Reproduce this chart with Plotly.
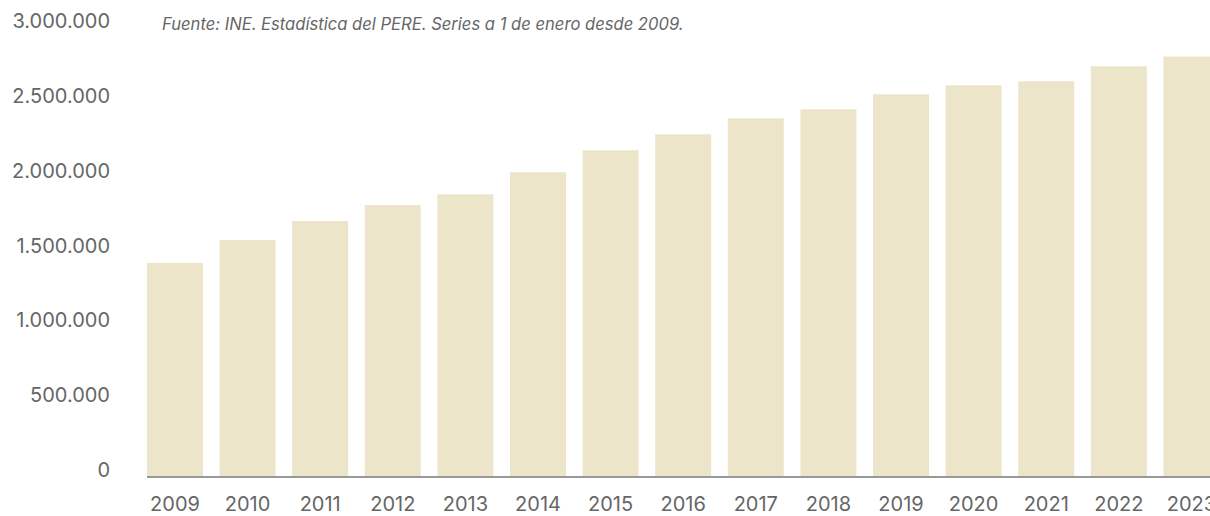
import plotly.graph_objects as go

years = ["2009", "2010", "2011", "2012", "2013", "2014", "2015", "2016",
         "2017", "2018", "2019", "2020", "2021", "2022", "2023"]
residents = [1423000, 1577000, 1703000, 1810000, 1883000, 2030000, 2177000, 2283000,
             2390000, 2450000, 2550000, 2610000, 2637000, 2737000, 2803000]
y_ticks = [0, 500000, 1000000, 1500000, 2000000, 2500000, 3000000]
y_tick_labels = ["0", "500.000", "1.000.000", "1.500.000", "2.000.000", "2.500.000", "3.000.000"]
source_text = "Fuente: INE. Estadística del PERE. Series a 1 de enero desde 2009."

BAR_GAP = 0.229
n = len(years)

fig = go.Figure(go.Bar(
    x=list(range(n)),
    y=residents,
    marker=dict(color="#EDE5CA", line=dict(width=0)),
    hoverinfo="skip",
))

fig.update_layout(
    width=1210, height=516,
    margin=dict(l=147, r=0, t=27, b=40, autoexpand=False),
    paper_bgcolor="white", plot_bgcolor="white",
    bargap=BAR_GAP,
    showlegend=False,
    font=dict(family="Inter, Roboto, sans-serif", color="#666666"),
    xaxis=dict(
        tickmode="array", tickvals=list(range(n)), ticktext=years,
        range=[-0.5 + BAR_GAP / 2, 14.256],
        showgrid=False, zeroline=False,
        showline=True, linecolor="#999999", linewidth=1.5,
        ticks="", tickfont=dict(size=20, color="#666666"),
        ticklabelstandoff=9, ticklabeloverflow="allow",
        automargin=False,
        fixedrange=True,
    ),
    yaxis=dict(
        tickmode="array", tickvals=y_ticks, ticktext=y_tick_labels,
        range=[0, 3000000],
        showgrid=False, zeroline=False, showline=False,
        ticks="", tickfont=dict(size=20, color="#666666"),
        ticklabelstandoff=36, ticklabelshift=-6,
        automargin=False,
        fixedrange=True,
    ),
    annotations=[dict(
        text="<i>" + source_text + "</i>", xref="paper", yref="paper",
        x=(160 - 147) / (1210 - 147), y=1.0, yshift=3,
        xanchor="left", yanchor="middle", showarrow=False,
        font=dict(size=16.6, color="#666666", family="Inter, Roboto, sans-serif"),
    )],
)

fig.write_html("out.html", config={"displayModeBar": False},
               post_script="document.body.style.margin='0';document.body.style.overflow='hidden';")
